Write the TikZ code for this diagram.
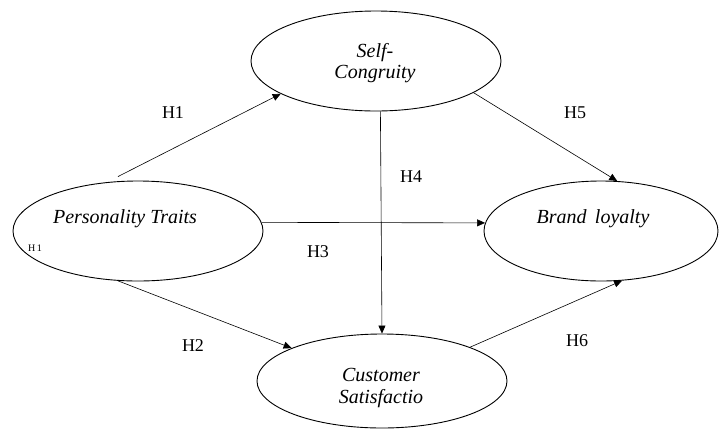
\documentclass[tikz,border=0pt]{standalone}
\usepackage{fontspec}
\setmainfont{Liberation Serif}
\usetikzlibrary{shapes.geometric,arrows.meta,calc}

\tikzset{
  latent/.style={draw,ellipse,line width=0.9pt,inner sep=0pt,minimum width=250pt,minimum height=100pt},
  vname/.style={font=\fontsize{20}{21}\selectfont\itshape,align=center},
  hyp/.style={font=\fontsize{18}{20}\selectfont},
}

\begin{document}
\begin{tikzpicture}[x=1pt,y=-1pt,>={Triangle[length=8pt,width=7pt]},line width=0.6pt]
    \useasboundingbox (0,0) rectangle (726,432);

    \node[latent]                     (sc) at (376,61)  {};
    \node[latent]                     (pt) at (138,231) {};
    \node[latent,minimum width=234pt] (bl) at (601,231) {};
    \node[latent,minimum height=94pt] (cs) at (382,381) {};

    \node[vname] (sctext) at (375,63)  {Self-\\Congruity};
    \node[vname] (pttext) at (125,219) {Personality Traits};
    \node[vname] (bltext) at (593,219) {Brand\, loyalty};
    \node[vname] (cstext) at (381,388) {Customer\\Satisfactio};

    \draw[->] ($(pt.north)+(-20,-4)$) -- (sc.199);
    \draw[->] (pt.248) -- (cs.160);
    \draw[->] (pt.4) -- (bl.176);
    \draw[->] (sc.275) -- (cs.north);
    \draw[->] (sc.342) -- (bl.72);
    \draw[->] (cs.21) -- (bl.293);

    \node[hyp] (h1) at (173,113) {H1};
    \node[hyp] (h2) at (193,346) {H2};
    \node[hyp] (h3) at (318,252) {H3};
    \node[hyp] (h4) at (411,177) {H4};
    \node[hyp] (h5) at (575,113) {H5};
    \node[hyp] (h6) at (577,341) {H6};
    \node[font=\fontsize{10}{10}\selectfont] (h1b) at (35,248) {H\,1};
\end{tikzpicture}
\end{document}
